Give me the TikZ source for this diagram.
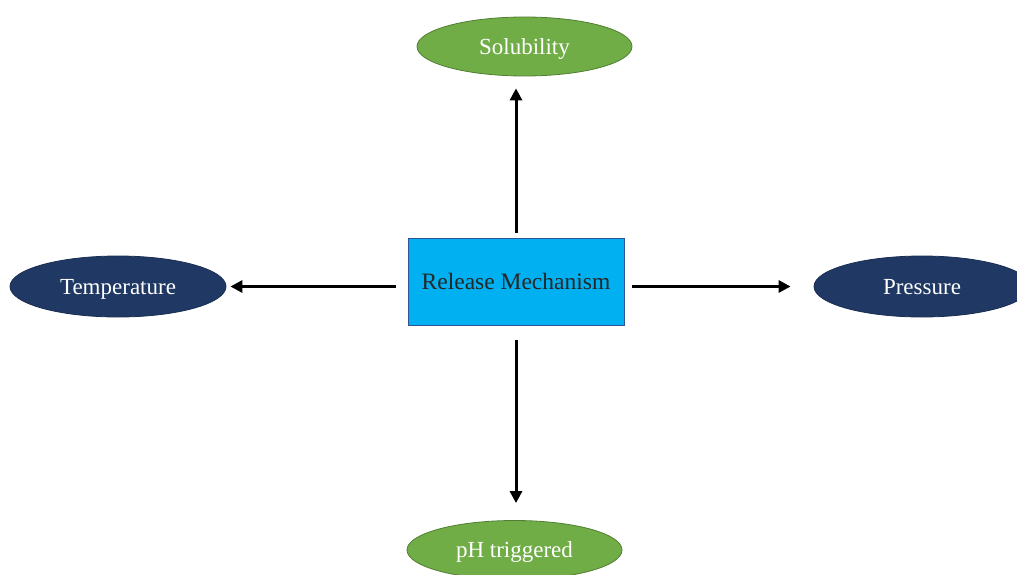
\documentclass[tikz,border=0pt]{standalone}
\usepackage{fontspec}
\setmainfont{Liberation Serif}
\usetikzlibrary{shapes.geometric,arrows.meta}
\definecolor{leafgreen}{HTML}{70AD47}
\definecolor{leafedge}{HTML}{507E32}
\definecolor{navy}{HTML}{203864}
\definecolor{navyedge}{HTML}{1A2E52}
\definecolor{skyblue}{HTML}{00B0F0}
\definecolor{boxedge}{HTML}{2F5597}
\tikzset{
  greenell/.style={ellipse, fill=leafgreen, draw=leafedge, line width=0.8pt, minimum width=215pt, minimum height=59pt, inner sep=0pt, text depth=0pt, text=white, font=\fontsize{23}{26}\selectfont},
  blueell/.style={ellipse, fill=navy, draw=navyedge, line width=0.8pt, minimum width=216pt, minimum height=61pt, inner sep=0pt, text depth=0pt, text=white, font=\fontsize{23}{26}\selectfont},
  centerbox/.style={rectangle, fill=skyblue, draw=boxedge, line width=0.8pt, minimum width=216pt, minimum height=87pt, inner sep=0pt, text depth=0pt, text=black!85, font=\fontsize{23.5}{26}\selectfont},
  arr/.style={-{Triangle[length=12pt,width=12pt]}, line width=3pt, black}
}
\begin{document}
\begin{tikzpicture}[x=1pt,y=-1pt]
\useasboundingbox (0,0) rectangle (1017,575);
\clip (0,0) rectangle (1017,575);
\node[centerbox] (rm) at (516,281.5) {Release Mechanism};
\node[greenell] (sol) at (524.5,46.5) {Solubility};
\node[blueell] (temp) at (118,286.5) {Temperature};
\node[blueell] (pres) at (922,286.5) {Pressure};
\node[greenell] (ph) at (514.5,550) {pH triggered};
\draw[arr, shorten <=5pt, shorten >=12pt] (rm.north) -- (rm.north |- sol.south);
\draw[arr, shorten <=12pt, shorten >=4pt] (rm.west |- temp.east) -- (temp.east);
\draw[arr, shorten <=8pt, shorten >=23pt] (rm.east |- pres.west) -- (pres.west);
\draw[arr, shorten <=15pt, shorten >=17pt] (rm.south) -- (rm.south |- ph.north);
\end{tikzpicture}
\end{document}
